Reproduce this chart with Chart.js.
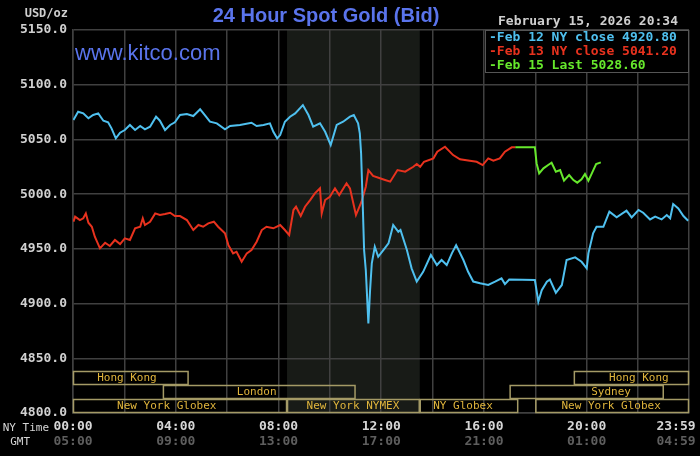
<!DOCTYPE html>
<html>
<head>
<meta charset="utf-8">
<script src="https://cdn.jsdelivr.net/npm/chart.js@4"></script>
<style>
  html, body { margin: 0; padding: 0; background: #000; }
  canvas { display: block; }
</style>
</head>
<body>
<canvas id="gold" width="700" height="456"></canvas>
<script>
/* Chart data. Times are NY minutes after midnight. */
var blueTimes = [1, 12, 24, 36, 47, 59, 71, 82, 90, 100, 110, 121, 133, 145, 157, 168, 180, 194, 203, 215,
  227, 238, 250, 266, 281, 297, 308, 320, 336, 355, 367, 390, 417, 429, 445, 460, 468, 477, 484, 495,
  507, 519, 537, 550, 561, 577, 589, 602, 616, 631, 647, 656, 666, 670, 673, 677, 680, 684, 690, 694,
  698, 705, 713, 725, 737, 748, 760, 765, 780, 791, 803, 818, 836, 850, 861, 873, 885, 895, 912, 923,
  935, 951, 970, 986, 1001, 1009, 1019, 1079, 1087, 1095, 1107, 1114, 1128, 1142, 1153, 1173, 1188, 1200, 1204, 1215,
  1223, 1239, 1253, 1270, 1293, 1305, 1321, 1332, 1348, 1360, 1375, 1387, 1395, 1402, 1414, 1426, 1437];
var blueValues = [5067.7, 5075.3, 5073.8, 5069.3, 5072.3, 5073.8, 5067.1, 5065.6, 5060.1, 5051.0, 5056.1, 5058.6, 5063.2, 5058.6, 5062.3, 5059.2, 5061.6, 5070.8, 5067.1, 5058.6,
  5063.2, 5065.6, 5072.3, 5073.2, 5071.4, 5077.5, 5072.3, 5066.2, 5064.7, 5059.2, 5062.3, 5063.2, 5065.3, 5062.3, 5063.2, 5064.7, 5057.0, 5051.0, 5054.0, 5066.2,
  5070.8, 5073.8, 5081.4, 5072.3, 5061.6, 5064.7, 5057.0, 5044.9, 5063.2, 5066.2, 5070.8, 5072.3, 5064.7, 5055.6, 5037.3, 4988.5, 4948.9, 4930.6, 4881.9, 4912.3,
  4936.8, 4951.9, 4942.8, 4948.9, 4955.0, 4971.8, 4965.6, 4967.2, 4948.9, 4932.2, 4920.1, 4929.0, 4944.4, 4935.2, 4939.8, 4935.2, 4945.9, 4953.4, 4939.8, 4929.0,
  4920.1, 4918.5, 4917.0, 4920.0, 4923.0, 4917.8, 4922.0, 4921.5, 4901.7, 4912.3, 4920.0, 4922.0, 4909.9, 4917.0, 4939.8, 4942.2, 4938.2, 4932.2, 4945.9, 4964.2,
  4970.2, 4970.2, 4984.0, 4978.8, 4984.9, 4978.8, 4985.5, 4983.0, 4976.9, 4979.4, 4976.9, 4980.9, 4977.9, 4991.0, 4987.0, 4980.0, 4975.7];

var redTimes = [1, 5, 16, 24, 30, 36, 44, 51, 63, 75, 86, 98, 110, 121, 133, 145, 157, 163, 168, 180,
  192, 203, 215, 227, 238, 250, 266, 281, 293, 304, 316, 329, 339, 355, 363, 374, 382, 394, 406, 417,
  429, 441, 452, 468, 484, 495, 505, 515, 521, 532, 542, 554, 565, 577, 581, 589, 600, 612, 622, 639,
  647, 661, 674, 684, 690, 701, 717, 729, 741, 758, 776, 795, 803, 811, 820, 842, 851, 869, 888, 904,
  927, 943, 957, 970, 982, 997, 1009, 1025, 1033];
var redValues = [4974.8, 4979.4, 4976.3, 4977.9, 4982.4, 4973.9, 4970.2, 4961.1, 4950.5, 4955.6, 4952.6, 4958.1, 4954.4, 4959.6, 4958.1, 4968.8, 4970.2, 4977.9, 4971.8, 4974.8,
  4982.4, 4980.9, 4981.8, 4983.0, 4980.0, 4980.0, 4976.3, 4967.2, 4971.8, 4970.2, 4973.3, 4974.8, 4970.2, 4964.2, 4953.4, 4945.9, 4947.4, 4938.2, 4945.9, 4948.9,
  4956.5, 4967.2, 4970.2, 4968.8, 4971.8, 4967.2, 4962.6, 4985.5, 4988.5, 4980.0, 4988.5, 4994.6, 5000.7, 5005.3, 4982.4, 4994.6, 4997.6, 5005.3, 4999.2, 5009.9,
  5005.3, 4980.9, 4993.1, 5006.8, 5022.0, 5016.6, 5014.5, 5012.9, 5011.4, 5022.0, 5020.5, 5025.0, 5027.5, 5025.0, 5029.6, 5032.7, 5038.8, 5043.3, 5035.7, 5031.8,
  5030.5, 5029.6, 5026.6, 5032.7, 5030.5, 5032.7, 5038.8, 5042.8, 5042.8];

var greenTimes = [1033, 1079, 1083, 1089, 1099, 1110, 1118, 1128, 1138, 1147, 1159, 1169, 1178, 1188, 1196, 1204, 1212, 1222, 1233];
var greenValues = [5042.8, 5042.8, 5028.1, 5019.0, 5023.6, 5026.6, 5028.7, 5020.5, 5022.0, 5012.3, 5017.5, 5012.9, 5010.5, 5013.5, 5018.4, 5012.3, 5019.0, 5027.5, 5029.0];

var legendLabels = ['Feb 12 NY close 4920.80', 'Feb 13 NY close 5041.20', 'Feb 15 Last 5028.60'];
var lineColors = ['#4fc0ef', '#e8321e', '#66e82c'];

var yTicks = [4800, 4850, 4900, 4950, 5000, 5050, 5100, 5150];
var gridTimes = [0, 120, 240, 360, 480, 600, 720, 840, 960, 1080, 1200, 1320, 1439];
var nyLabels = ['00:00', '04:00', '08:00', '12:00', '16:00', '20:00', '23:59'];
var gmtLabels = ['05:00', '09:00', '13:00', '17:00', '21:00', '01:00', '04:59'];
var labelTimes = [0, 240, 480, 720, 960, 1200, 1439];

/* Trading sessions along the bottom */
var sessionNames = ['Hong Kong', 'London', 'New York Globex', 'New York NYMEX', 'NY Globex', 'Sydney', 'Hong Kong', 'New York Globex'];
var sessionStart = [0, 210, 0, 500, 810, 1020, 1170, 1080];
var sessionEnd = [270, 660, 500, 810, 1040, 1380, 1439, 1439];
var sessionRow = [0, 1, 2, 2, 2, 1, 0, 2];
var sessionLabelAt = [126, 429, 219, 654, 911, 1257, 1322, 1257];
var nymexStart = 500;
var nymexEnd = 810;

function toPoints(times, values) {
  return times.map(function (t, i) { return { x: t, y: values[i] }; });
}

var MONO = '"DejaVu Sans Mono", "Liberation Mono", monospace';

/* Everything Chart.js does not draw on its own: titles, legend box, sessions */
var kitcoDecor = {
  id: 'kitcoDecor',
  beforeDraw: function (chart) {
    var ctx = chart.ctx, a = chart.chartArea, x = chart.scales.x;
    ctx.save();
    ctx.fillStyle = '#000';
    ctx.fillRect(0, 0, chart.width, chart.height);
    ctx.fillStyle = '#181b17';
    var x0 = x.getPixelForValue(nymexStart), x1 = x.getPixelForValue(nymexEnd);
    ctx.fillRect(x0, a.top, x1 - x0, a.bottom - a.top);
    ctx.restore();
  },
  beforeDatasetsDraw: function (chart) {
    var ctx = chart.ctx, a = chart.chartArea, x = chart.scales.x;
    var rowH = 14;
    ctx.save();
    ctx.strokeStyle = '#a49a66';
    ctx.lineWidth = 1.5;
    ctx.font = '11px ' + MONO;
    ctx.textAlign = 'center';
    ctx.textBaseline = 'middle';
    for (var i = 0; i < sessionNames.length; i++) {
      var top = a.bottom - (3 - sessionRow[i]) * rowH;
      var l = x.getPixelForValue(sessionStart[i]);
      var r = x.getPixelForValue(sessionEnd[i]);
      ctx.strokeRect(l + 0.5, top + 0.5, r - l - 1, rowH - 1);
      ctx.fillStyle = '#e0b53c';
      ctx.fillText(sessionNames[i], x.getPixelForValue(sessionLabelAt[i]), top + rowH / 2 + 0.5);
    }
    ctx.restore();
  },
  afterDraw: function (chart) {
    var ctx = chart.ctx, a = chart.chartArea, x = chart.scales.x;
    ctx.save();
    ctx.textBaseline = 'middle';

    ctx.fillStyle = '#5a74ec';
    ctx.font = 'bold 20px "Liberation Sans", Arial, sans-serif';
    ctx.textAlign = 'center';
    ctx.fillText('24 Hour Spot Gold (Bid)', 326, 16);
    ctx.textAlign = 'left';
    ctx.font = '22px "Liberation Sans", Arial, sans-serif';
    ctx.fillText('www.kitco.com', 75, 54);

    ctx.fillStyle = '#cfcfcf';
    ctx.font = 'bold 12px ' + MONO;
    ctx.textAlign = 'right';
    ctx.fillText('USD/oz', 68, 14);
    ctx.font = 'bold 13px ' + MONO;
    ctx.fillText('February 15, 2026 20:34', 678, 22);

    // legend box
    var lx = 485, ly = a.top, lw = a.right - 485, lh = 43;
    ctx.fillStyle = '#000';
    ctx.fillRect(lx, ly, lw, lh);
    ctx.strokeStyle = '#555';
    ctx.lineWidth = 1;
    ctx.strokeRect(lx + 0.5, ly + 0.5, lw - 1, lh - 1);
    ctx.textAlign = 'left';
    ctx.font = 'bold 13px ' + MONO;
    for (var i = 0; i < legendLabels.length; i++) {
      ctx.fillStyle = lineColors[i];
      ctx.fillText('-' + legendLabels[i], 489, ly + 8 + i * 13.8);
    }

    // time axis, two rows
    ctx.textAlign = 'center';
    for (var j = 0; j < labelTimes.length; j++) {
      var px = Math.min(x.getPixelForValue(labelTimes[j]), 676);
      ctx.fillStyle = '#d6d6d6';
      ctx.fillText(nyLabels[j], px, 427);
      ctx.fillStyle = '#5e5e5e';
      ctx.fillText(gmtLabels[j], px, 442);
    }
    ctx.font = '11px ' + MONO;
    ctx.fillStyle = '#d6d6d6';
    ctx.textAlign = 'right';
    ctx.fillText('NY Time', 49, 428);
    ctx.fillText('GMT', 30, 442);
    ctx.restore();
  }
};

function makeDataset(times, values, color) {
  return {
    data: toPoints(times, values),
    borderColor: color,
    borderWidth: 2,
    pointRadius: 0,
    tension: 0,
    fill: false
  };
}

var ctx = document.getElementById('gold').getContext('2d');
var goldChart = new Chart(ctx, {
  type: 'line',
  data: {
    datasets: [
      makeDataset(blueTimes, blueValues, lineColors[0]),
      makeDataset(redTimes, redValues, lineColors[1]),
      makeDataset(greenTimes, greenValues, lineColors[2])
    ]
  },
  options: {
    responsive: false,
    animation: false,
    layout: { padding: { top: 30, right: 11, left: 0, bottom: 0 } },
    plugins: { legend: { display: false }, tooltip: { enabled: false } },
    scales: {
      x: {
        type: 'linear',
        min: 0,
        max: 1439,
        afterBuildTicks: function (scale) {
          scale.ticks = gridTimes.map(function (t) { return { value: t }; });
        },
        afterFit: function (scale) { scale.height = 43; },
        grid: { color: '#404040', lineWidth: 1.5, drawTicks: false },
        border: { color: '#404040', width: 1.5 },
        ticks: { display: false }
      },
      y: {
        min: 4800,
        max: 5150,
        afterBuildTicks: function (scale) {
          scale.ticks = yTicks.map(function (v) { return { value: v }; });
        },
        afterFit: function (scale) { scale.width = 73; },
        grid: { color: '#404040', lineWidth: 1.5, drawTicks: false },
        border: { color: '#404040', width: 1.5 },
        ticks: {
          padding: 6,
          color: '#d0d0d0',
          font: { family: MONO, size: 13, weight: 'bold' },
          callback: function (v) { return Number(v).toFixed(1); }
        }
      }
    }
  },
  plugins: [kitcoDecor]
});
</script>
</body>
</html>
